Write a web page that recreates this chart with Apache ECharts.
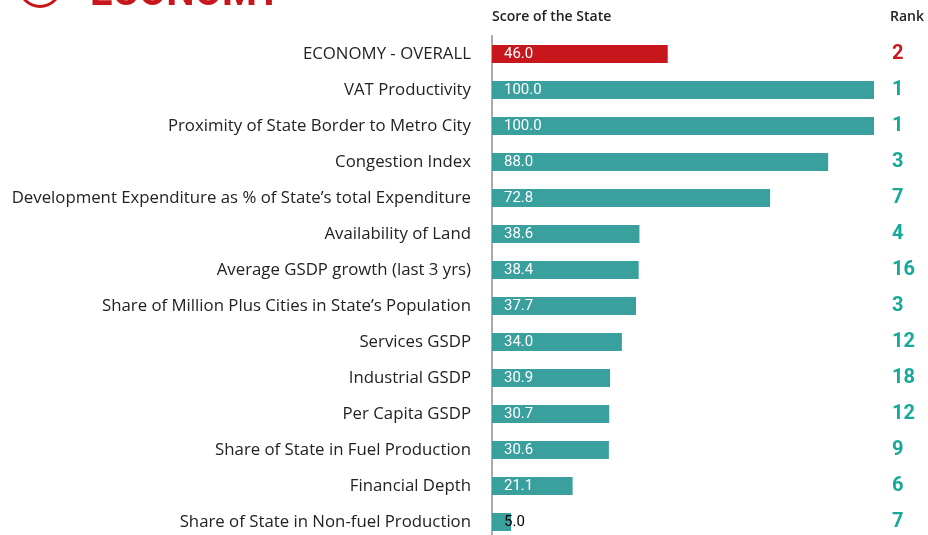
<!DOCTYPE html>
<html>
<head>
<meta charset="utf-8">
<script src="https://cdn.jsdelivr.net/npm/echarts@6/dist/echarts.min.js"></script>
<style>
  html, body { margin: 0; padding: 0; background: #fff; }
  #chart { width: 928px; height: 535px; }
</style>
</head>
<body>
<div id="chart"></div>
<script>
const indicators = [
  'ECONOMY - OVERALL',
  'VAT Productivity',
  'Proximity of State Border to Metro City',
  'Congestion Index',
  'Development Expenditure as % of State\u2019s total Expenditure',
  'Availability of Land',
  'Average GSDP growth (last 3 yrs)',
  'Share of Million Plus Cities in State\u2019s Population',
  'Services GSDP',
  'Industrial GSDP',
  'Per Capita GSDP',
  'Share of State in Fuel Production',
  'Financial Depth',
  'Share of State in Non-fuel Production'
];
const scores = [46.0, 100.0, 100.0, 88.0, 72.8, 38.6, 38.4, 37.7, 34.0, 30.9, 30.7, 30.6, 21.1, 5.0];
const ranks = [2, 1, 1, 3, 7, 4, 16, 3, 12, 18, 12, 9, 6, 7];

const RED = '#c8161d';
const TEAL = '#3aa09e';
const RANK_TEAL = '#17a89c';
const FONT = 'Roboto';
const LABEL_FONT = 'Open Sans';

const chart = echarts.init(document.getElementById('chart'));

chart.setOption({
  animation: false,
  textStyle: { fontFamily: FONT },
  grid: { left: 492, right: 54, top: 36, height: 504, outerBoundsMode: 'none', containLabel: false },
  graphic: [
    // section header, cut off at the top edge
    {
      type: 'text', x: 90, y: 15,
      style: {
        text: 'ECONOMY', fill: RED, fontSize: 40, fontWeight: 'bold', fontFamily: FONT,
        verticalAlign: 'bottom'
      }
    },
    {
      type: 'ring', shape: { cx: 40, cy: -14, r: 22, r0: 19 },
      style: { fill: RED }
    },
    {
      type: 'text', left: 492, top: 10,
      style: { text: 'Score of the State', fill: '#222', font: '600 14px ' + LABEL_FONT }
    },
    {
      type: 'text', left: 890, top: 10,
      style: { text: 'Rank', fill: '#222', font: '600 14px ' + LABEL_FONT }
    }
  ],
  xAxis: {
    type: 'value', min: 0, max: 100,
    show: false
  },
  yAxis: [
    {
      type: 'category', data: indicators, inverse: true,
      axisLine: { show: true, lineStyle: { color: '#aaa', width: 2 } },
      axisTick: { show: false },
      axisLabel: { color: '#222', fontSize: 16.8, margin: 21, fontFamily: LABEL_FONT }
    },
    {
      type: 'category', data: ranks, inverse: true, position: 'right',
      axisLine: { show: false },
      axisTick: { show: false },
      axisLabel: {
        margin: 18, align: 'left', fontSize: 20, fontWeight: 'bold', fontFamily: FONT,
        color: (v, i) => (i === 0 ? RED : RANK_TEAL)
      }
    }
  ],
  series: [{
    type: 'bar',
    barWidth: 18,
    data: scores.map((v, i) => ({
      value: v,
      itemStyle: { color: i === 0 ? RED : TEAL },
      label: { color: v < 10 ? '#000' : '#fff' }
    })),
    label: {
      show: true, position: 'insideLeft', distance: 12,
      fontSize: 15, fontFamily: FONT,
      formatter: p => p.value.toFixed(1)
    }
  }]
});
</script>
</body>
</html>
